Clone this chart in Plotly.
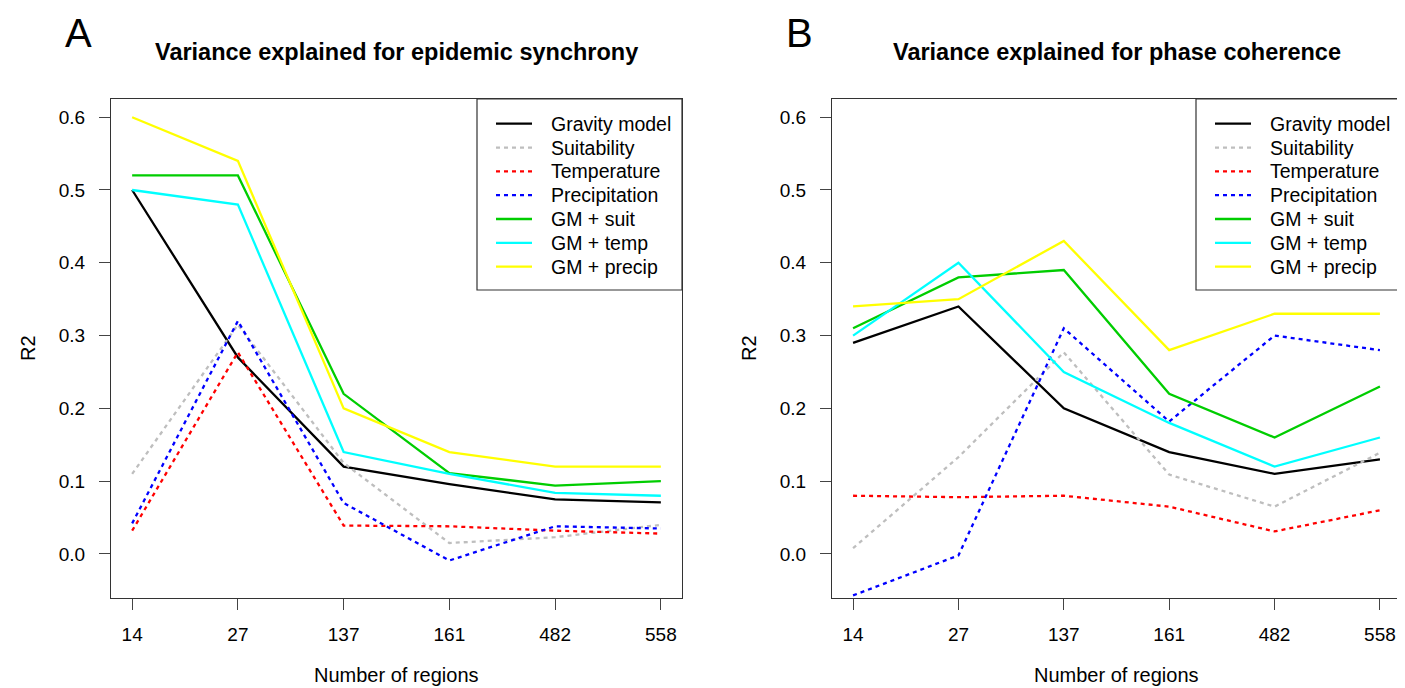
import plotly.graph_objects as go

# ---------------- data ----------------
regions = ["14", "27", "137", "161", "482", "558"]
series_names = ["Gravity model", "Suitability", "Temperature", "Precipitation",
                "GM + suit", "GM + temp", "GM + precip"]

# Panel A: Variance explained for epidemic synchrony
sync_gravity = [0.50, 0.27, 0.12, 0.096, 0.075, 0.071]
sync_suit = [0.11, 0.315, 0.125, 0.015, 0.023, 0.040]
sync_temp = [0.032, 0.277, 0.039, 0.038, 0.032, 0.028]
sync_precip = [0.042, 0.32, 0.070, -0.009, 0.038, 0.035]
sync_gm_suit = [0.52, 0.52, 0.22, 0.111, 0.094, 0.100]
sync_gm_temp = [0.50, 0.48, 0.14, 0.110, 0.084, 0.080]
sync_gm_precip = [0.60, 0.54, 0.20, 0.14, 0.12, 0.12]

# Panel B: Variance explained for phase coherence
phase_gravity = [0.29, 0.34, 0.20, 0.14, 0.11, 0.13]
phase_suit = [0.008, 0.133, 0.277, 0.109, 0.065, 0.139]
phase_temp = [0.080, 0.078, 0.080, 0.065, 0.031, 0.060]
phase_precip = [-0.057, -0.002, 0.31, 0.182, 0.30, 0.28]
phase_gm_suit = [0.31, 0.38, 0.39, 0.22, 0.16, 0.23]
phase_gm_temp = [0.30, 0.40, 0.25, 0.18, 0.12, 0.16]
phase_gm_precip = [0.34, 0.35, 0.43, 0.28, 0.33, 0.33]

y_tick_vals = [0.0, 0.1, 0.2, 0.3, 0.4, 0.5, 0.6]
y_tick_text = ["0.0", "0.1", "0.2", "0.3", "0.4", "0.5", "0.6"]

panel_titles = ["Variance explained for epidemic synchrony",
                "Variance explained for phase coherence"]
panel_letters = ["A", "B"]
x_title = "Number of regions"
y_title = "R2"

# ---------------- styles ----------------
colors = ["#000000", "#BEBEBE", "#FF0000", "#0000FF", "#00CD00", "#00FFFF", "#FFFF00"]
dashes = ["solid", "4px,4px", "4px,4px", "4px,4px", "solid", "solid", "solid"]
FONT = "Liberation Sans, Arial, sans-serif"

W, H = 1405, 688
def px_x(p):
    return p / W
def px_y(p):
    return 1 - p / H

boxA = (103, 674)
boxB = (824, 1393)
box_top, box_bot = 91, 590
domA = [px_x(boxA[0]), px_x(boxA[1])]
domB = [px_x(boxB[0]), px_x(boxB[1])]
domY = [px_y(box_bot), px_y(box_top)]

fig = go.Figure()
xidx = list(range(len(regions)))

panels = [
    [sync_gravity, sync_suit, sync_temp, sync_precip, sync_gm_suit, sync_gm_temp, sync_gm_precip],
    [phase_gravity, phase_suit, phase_temp, phase_precip, phase_gm_suit, phase_gm_temp, phase_gm_precip],
]
for k, vals_list in enumerate(panels):
    xa = "x" if k == 0 else "x2"
    ya = "y" if k == 0 else "y2"
    for name, vals, c, d in zip(series_names, vals_list, colors, dashes):
        fig.add_trace(go.Scatter(
            x=xidx, y=vals, mode="lines", name=name, showlegend=False,
            line=dict(color=c, width=2.3, dash=d),
            xaxis=xa, yaxis=ya, hoverinfo="skip"))

axis_common = dict(
    showline=True, linecolor="#333333", linewidth=1.2, mirror=True,
    showgrid=False, zeroline=False, ticks="outside", ticklen=11,
    tickcolor="#444444", tickwidth=1,
    tickfont=dict(family=FONT, size=19, color="#000000"),
)
xaxis_common = dict(axis_common, range=[-0.2, 5.2], tickmode="array",
                    tickvals=xidx, ticktext=regions, ticklabelstandoff=8)
yaxis_common = dict(axis_common, range=[-0.0605, 0.625], tickmode="array",
                    tickvals=y_tick_vals, ticktext=y_tick_text, ticklabelstandoff=10)

fig.update_layout(
    width=W, height=H,
    margin=dict(l=0, r=0, t=0, b=0),
    paper_bgcolor="#FFFFFF", plot_bgcolor="#FFFFFF",
    xaxis=dict(xaxis_common, domain=domA, anchor="y"),
    yaxis=dict(yaxis_common, domain=domY, anchor="x"),
    xaxis2=dict(xaxis_common, domain=domB, anchor="y2"),
    yaxis2=dict(yaxis_common, domain=domY, anchor="x2"),
    showlegend=False,
)

annotations = []
shapes = []
for box, title, letter in zip([boxA, boxB], panel_titles, panel_letters):
    cx = px_x((box[0] + box[1]) / 2)
    annotations.append(dict(text="<b>" + title + "</b>", x=cx, y=px_y(44), xref="paper", yref="paper",
                            showarrow=False, xanchor="center", yanchor="middle",
                            font=dict(family=FONT, size=23.5, color="#000000")))
    annotations.append(dict(text=letter, x=px_x(box[0] - 33), y=px_y(25), xref="paper", yref="paper",
                            showarrow=False, xanchor="center", yanchor="middle",
                            font=dict(family=FONT, size=40, color="#000000")))
    annotations.append(dict(text=x_title, x=cx, y=px_y(667), xref="paper", yref="paper",
                            showarrow=False, xanchor="center", yanchor="middle",
                            font=dict(family=FONT, size=20, color="#000000")))
    annotations.append(dict(text=y_title, x=px_x(box[0] - 83), y=px_y(340), xref="paper", yref="paper",
                            showarrow=False, xanchor="center", yanchor="middle", textangle=-90,
                            font=dict(family=FONT, size=20, color="#000000")))
    # legend (drawn like R's legend box, top-right of the plot region)
    lg_left, lg_right = box[1] - 205, box[1]
    lg_top, lg_bot = box_top, 282
    shapes.append(dict(type="rect", xref="paper", yref="paper",
                       x0=px_x(lg_left), x1=px_x(lg_right), y0=px_y(lg_bot), y1=px_y(lg_top),
                       line=dict(color="#333333", width=1.2), fillcolor="#FFFFFF", layer="above"))
    for i, (name, c, d) in enumerate(zip(series_names, colors, dashes)):
        yy = 115.7 + 23.83 * i
        shapes.append(dict(type="line", xref="paper", yref="paper",
                           x0=px_x(lg_left + 19), x1=px_x(lg_left + 55), y0=px_y(yy), y1=px_y(yy),
                           line=dict(color=c, width=2.3, dash=d), layer="above"))
        annotations.append(dict(text=name, x=px_x(lg_left + 72), y=px_y(yy), xref="paper", yref="paper",
                                showarrow=False, xanchor="left", yanchor="middle",
                                font=dict(family=FONT, size=19.5, color="#000000")))
fig.update_layout(annotations=annotations, shapes=shapes)

fig.write_html("out.html")
